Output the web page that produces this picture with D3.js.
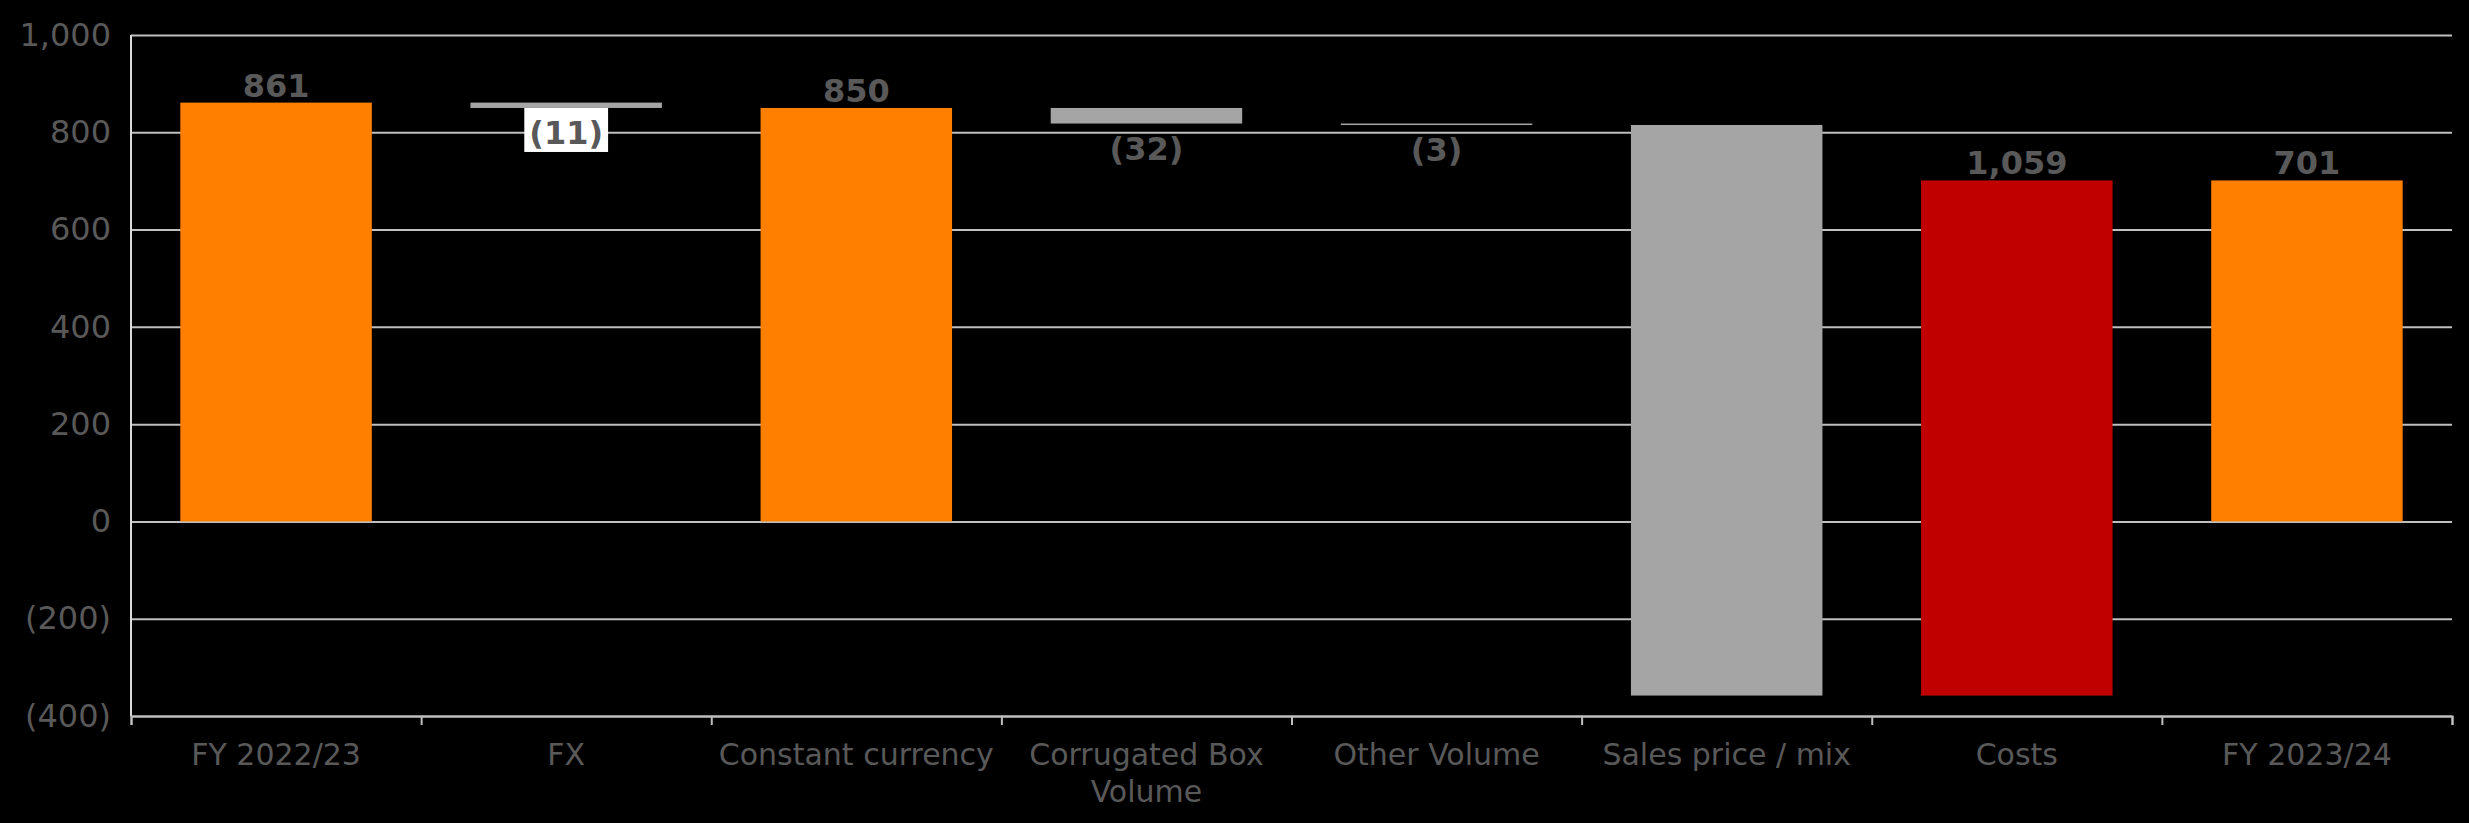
<!DOCTYPE html>
<html>
<head>
<meta charset="utf-8">
<script src="https://cdn.jsdelivr.net/npm/d3@7"></script>
<style>
  html, body { margin: 0; padding: 0; background: #000; }
  svg { display: block; }
</style>
</head>
<body>
<script>
// ---- data ----
const categories = ["FY 2022/23", "FX", "Constant currency", "Corrugated Box Volume", "Other Volume", "Sales price / mix", "Costs", "FY 2023/24"];
const values = [861, -11, 850, -32, -3, -1173, 1059, 701];
const barTypes = ["total", "delta", "total", "delta", "delta", "delta", "delta", "total"];
const labelVisible = [true, true, true, true, true, false, true, true];
const labelBoxed = [false, true, false, false, false, false, false, false];
const yTicks = [-400, -200, 0, 200, 400, 600, 800, 1000];

(function () {
// ---- layout ----
const W = 2469, H = 823;
const mLeft = 131, mRight = 2452, mTop = 35, mBottom = 716;
const COLORS = { total: "#FF7F00", neg: "#A5A5A5", pos: "#C00000" };
const TEXT = "#595959";
const GRID = "#BFBFBF";

const svg = d3.select("body").append("svg")
  .attr("width", W).attr("height", H)
  .style("background", "#000");

svg.append("rect").attr("width", W).attr("height", H).attr("fill", "#000");

const y = d3.scaleLinear().domain([-400, 1000]).range([mBottom, mTop]);
const x = d3.scaleBand().domain(categories).range([mLeft, mRight])
  .paddingInner(0.34).paddingOuter(0.17);

const fmt = v => v < 0 ? "(" + d3.format(",")(-v) + ")" : d3.format(",")(v);

// running totals
let running = 0;
const bars = categories.map((c, i) => {
  const v = values[i];
  let start, end;
  if (barTypes[i] === "total") { start = 0; end = v; running = v; }
  else { start = running; end = running + v; running = end; }
  const color = barTypes[i] === "total" ? COLORS.total : (v < 0 ? COLORS.neg : COLORS.pos);
  return { c, v, start, end, lo: Math.min(start, end), hi: Math.max(start, end), color, i };
});

// gridlines + y labels
const yAxis = svg.append("g")
  .attr("transform", `translate(${mLeft},0)`)
  .call(d3.axisLeft(y).tickValues(yTicks).tickSize(-(mRight - mLeft)).tickPadding(20).tickFormat(fmt));
yAxis.select(".domain").remove();
yAxis.selectAll(".tick line").attr("stroke", GRID).attr("stroke-width", 2);
yAxis.selectAll(".tick text")
  .attr("fill", TEXT)
  .style("font-family", "'DejaVu Sans', Verdana, sans-serif")
  .style("font-size", "32px");

// left axis line
svg.append("line")
  .attr("x1", mLeft).attr("x2", mLeft)
  .attr("y1", y(1000)).attr("y2", y(-400))
  .attr("stroke", "#D9D9D9").attr("stroke-width", 2);

// bars
svg.append("g").selectAll("rect").data(bars).join("rect")
  .attr("x", d => x(d.c))
  .attr("width", x.bandwidth())
  .attr("y", d => y(d.hi))
  .attr("height", d => Math.max(1.5, y(d.lo) - y(d.hi)))
  .attr("fill", d => d.color);

// bottom axis boundary ticks
const idx = d3.scaleLinear().domain([0, categories.length]).range([mLeft, mRight]);
const bAxis = svg.append("g")
  .attr("transform", `translate(0,${y(-400)})`)
  .call(d3.axisBottom(idx).ticks(categories.length).tickSize(9).tickFormat(""));
bAxis.select(".domain").attr("stroke", GRID).attr("stroke-width", 2);
bAxis.selectAll(".tick line").attr("stroke", GRID).attr("stroke-width", 2);

// category labels
const xAxis = svg.append("g")
  .attr("transform", `translate(0,${y(-400)})`)
  .call(d3.axisBottom(x).tickSize(0).tickPadding(28));
xAxis.select(".domain").remove();
xAxis.selectAll(".tick text")
  .attr("fill", TEXT)
  .style("font-family", "'DejaVu Sans', Verdana, sans-serif")
  .style("font-size", "30px")
  .each(function () {
    const t = d3.select(this);
    const words = t.text().split(/\s+/);
    const yy = +t.attr("y");
    t.text(null).attr("dy", null);
    let line = [];
    let lineNo = 0;
    let tspan = t.append("tspan").attr("x", 0).attr("y", yy + 21);
    for (const w of words) {
      line.push(w);
      tspan.text(line.join(" "));
      if (tspan.node().getComputedTextLength() > 284 && line.length > 1) {
        line.pop();
        tspan.text(line.join(" "));
        line = [w];
        lineNo++;
        tspan = t.append("tspan").attr("x", 0).attr("y", yy + 21 + lineNo * 37).text(w);
      }
    }
  });

// value labels
const lg = svg.append("g");
bars.forEach(d => {
  if (!labelVisible[d.i]) return;
  const cx = x(d.c) + x.bandwidth() / 2;
  const isNeg = barTypes[d.i] === "delta" && d.v < 0;
  const ty = isNeg ? y(d.lo) + 36 : y(d.hi) - 6;
  const g = lg.append("g");
  const t = g.append("text")
    .attr("x", cx).attr("y", ty)
    .attr("text-anchor", "middle")
    .attr("fill", TEXT)
    .style("font-family", "'DejaVu Sans', Verdana, sans-serif")
    .style("font-weight", "bold")
    .style("font-size", "32px")
    .text(fmt(d.v));
  if (labelBoxed[d.i]) {
    const bb = t.node().getBBox();
    const yTop = y(d.lo);
    g.insert("rect", "text")
      .attr("x", bb.x - 5).attr("width", bb.width + 10)
      .attr("y", yTop).attr("height", bb.y + bb.height - yTop)
      .attr("fill", "#FFFFFF");
  }
});
})();
</script>
</body>
</html>
